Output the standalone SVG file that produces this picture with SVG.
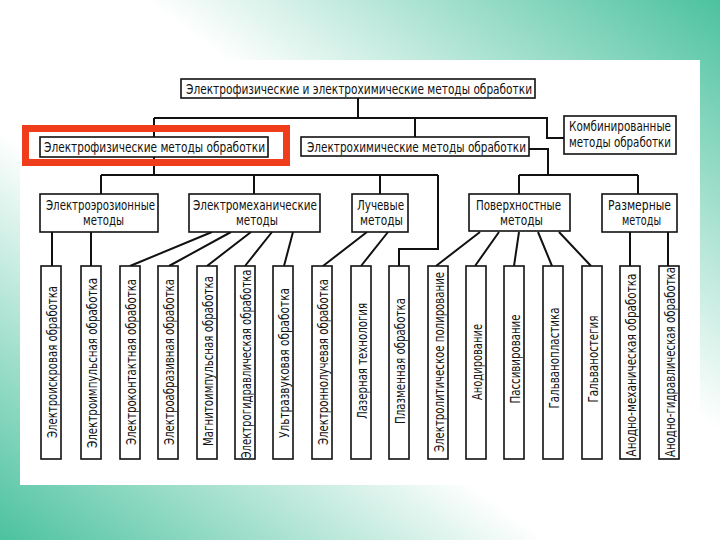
<svg xmlns="http://www.w3.org/2000/svg" width="720" height="540" viewBox="0 0 720 540">
<defs>
<linearGradient id="bg" x1="0" y1="1" x2="1" y2="0">
<stop offset="0" stop-color="#4cc29e"/>
<stop offset="0.38" stop-color="#ffffff"/>
<stop offset="0.6" stop-color="#ffffff"/>
<stop offset="1" stop-color="#4cc29e"/>
</linearGradient>
<style>
.box{fill:#fff;stroke:#111;stroke-width:1.6}
.ln{fill:none;stroke:#111;stroke-width:2}
.t{font-family:"Liberation Sans Narrow","DejaVu Sans Condensed","Liberation Sans",sans-serif;font-size:13.5px;fill:#111}
.v{font-family:"Liberation Sans Narrow","DejaVu Sans Condensed","Liberation Sans",sans-serif;font-size:14.5px;fill:#111;text-anchor:middle}
</style>
</defs>
<rect x="0" y="0" width="720" height="540" fill="url(#bg)"/>
<rect x="20" y="60" width="680" height="425" fill="#fff"/>

<g id="connectors">
<path class="ln" d="M358 98V118M154 118H547V138H564M415 118V137M154 118V137M154 157V175M101 175H438M101 175V194M254 175V194M380 175V194M438 175V249H399V266"/>
<path class="ln" d="M529 149H548V175M519 175H638M519 175V194M638 175V194"/>
<path class="ln" d="M52 232V266M91 232V266M212 232L130 266M231 232L169 266M251 232L207 266M272 232L245 266M293 232L284 266M367 232L323 266M388 232L361 266M480 232L436 266M499 232L475 266M519 232L514 266M538 232L552 266M559 232L591 266M630 232V266M668 232V266"/>
</g>

<g id="root"><rect class="box" x="181" y="79" width="354" height="19"/><text class="t" x="186" y="93.5" textLength="346" lengthAdjust="spacingAndGlyphs">Электрофизические и электрохимические методы обработки</text></g>
<g id="highlight"><rect x="25.5" y="128.5" width="261" height="34" fill="none" stroke="#ef3d1b" stroke-width="7"/></g>
<g id="ephys"><rect class="box" x="40" y="137" width="228" height="20"/><text class="t" x="44" y="152" textLength="221" lengthAdjust="spacingAndGlyphs">Электрофизические методы обработки</text></g>
<g id="echem"><rect class="box" x="301" y="137" width="228" height="19"/><text class="t" x="307" y="151.5" textLength="219" lengthAdjust="spacingAndGlyphs">Электрохимические методы обработки</text></g>
<g id="comb"><rect class="box" x="564" y="116" width="112" height="38"/><text class="t" x="569" y="131" textLength="102" lengthAdjust="spacingAndGlyphs">Комбинированные</text><text class="t" x="569" y="147" textLength="102" lengthAdjust="spacingAndGlyphs">методы обработки</text></g>

<g id="eeroz"><rect class="box" x="40" y="194" width="118" height="38"/><text class="t" x="46" y="209.5" textLength="109" lengthAdjust="spacingAndGlyphs">Электроэрозионные</text><text class="t" x="83" y="225" textLength="41" lengthAdjust="spacingAndGlyphs">методы</text></g>
<g id="emech"><rect class="box" x="189" y="194" width="131" height="38"/><text class="t" x="193" y="209.5" textLength="124" lengthAdjust="spacingAndGlyphs">Электромеханические</text><text class="t" x="236" y="225" textLength="42" lengthAdjust="spacingAndGlyphs">методы</text></g>
<g id="beam"><rect class="box" x="352" y="194" width="56" height="38"/><text class="t" x="357" y="209.5" textLength="47" lengthAdjust="spacingAndGlyphs">Лучевые</text><text class="t" x="360" y="225" textLength="43" lengthAdjust="spacingAndGlyphs">методы</text></g>
<g id="surf"><rect class="box" x="469" y="194" width="101" height="37"/><text class="t" x="476" y="209.5" textLength="85" lengthAdjust="spacingAndGlyphs">Поверхностные</text><text class="t" x="500" y="225" textLength="43" lengthAdjust="spacingAndGlyphs">методы</text></g>
<g id="dim"><rect class="box" x="602" y="194" width="75" height="38"/><text class="t" x="608" y="209.5" textLength="63" lengthAdjust="spacingAndGlyphs">Размерные</text><text class="t" x="622" y="225" textLength="39" lengthAdjust="spacingAndGlyphs">методы</text></g>

<g id="b1"><rect class="box" x="41" y="266" width="20" height="193"/><text class="v" transform="translate(56.5,362) rotate(-90)" textLength="152" lengthAdjust="spacingAndGlyphs">Электроискровая обработка</text></g>
<g id="b2"><rect class="box" x="81" y="266" width="20" height="193"/><text class="v" transform="translate(96.5,363) rotate(-90)" textLength="170" lengthAdjust="spacingAndGlyphs">Электроимпульсная обработка</text></g>
<g id="b3"><rect class="box" x="120" y="266" width="20" height="193"/><text class="v" transform="translate(135.5,362) rotate(-90)" textLength="166" lengthAdjust="spacingAndGlyphs">Электроконтактная обработка</text></g>
<g id="b4"><rect class="box" x="158" y="266" width="20" height="193"/><text class="v" transform="translate(173.5,362) rotate(-90)" textLength="166" lengthAdjust="spacingAndGlyphs">Электроабразивная обработка</text></g>
<g id="b5"><rect class="box" x="197" y="266" width="20" height="193"/><text class="v" transform="translate(212.5,361) rotate(-90)" textLength="170" lengthAdjust="spacingAndGlyphs">Магнитоимпульсная обработка</text></g>
<g id="b6"><rect class="box" x="235" y="266" width="20" height="193"/><text class="v" transform="translate(250.5,364) rotate(-90)" textLength="189" lengthAdjust="spacingAndGlyphs">Электрогидравлическая обработка</text></g>
<g id="b7"><rect class="box" x="273" y="266" width="20" height="193"/><text class="v" transform="translate(288.5,363) rotate(-90)" textLength="150" lengthAdjust="spacingAndGlyphs">Ультразвуковая обработка</text></g>
<g id="b8"><rect class="box" x="312" y="266" width="20" height="193"/><text class="v" transform="translate(327.5,362) rotate(-90)" textLength="166" lengthAdjust="spacingAndGlyphs">Электроннолучевая обработка</text></g>
<g id="b9"><rect class="box" x="351" y="266" width="20" height="193"/><text class="v" transform="translate(366.5,361) rotate(-90)" textLength="116" lengthAdjust="spacingAndGlyphs">Лазерная технология</text></g>
<g id="b10"><rect class="box" x="389" y="266" width="20" height="193"/><text class="v" transform="translate(404.5,361) rotate(-90)" textLength="126" lengthAdjust="spacingAndGlyphs">Плазменная обработка</text></g>
<g id="b11"><rect class="box" x="428" y="266" width="20" height="193"/><text class="v" transform="translate(443.5,362) rotate(-90)" textLength="180" lengthAdjust="spacingAndGlyphs">Электролитическое полирование</text></g>
<g id="b12"><rect class="box" x="466" y="266" width="20" height="193"/><text class="v" transform="translate(481.5,362) rotate(-90)" textLength="76" lengthAdjust="spacingAndGlyphs">Анодирование</text></g>
<g id="b13"><rect class="box" x="504" y="266" width="20" height="193"/><text class="v" transform="translate(519.5,359) rotate(-90)" textLength="89" lengthAdjust="spacingAndGlyphs">Пассивирование</text></g>
<g id="b14"><rect class="box" x="543" y="266" width="20" height="193"/><text class="v" transform="translate(558.5,358) rotate(-90)" textLength="101" lengthAdjust="spacingAndGlyphs">Гальванопластика</text></g>
<g id="b15"><rect class="box" x="582" y="266" width="20" height="193"/><text class="v" transform="translate(597.5,359) rotate(-90)" textLength="87" lengthAdjust="spacingAndGlyphs">Гальваностегия</text></g>
<g id="b16"><rect class="box" x="620" y="266" width="20" height="193"/><text class="v" transform="translate(635.5,365) rotate(-90)" textLength="183" lengthAdjust="spacingAndGlyphs">Анодно-механическая обработка</text></g>
<g id="b17"><rect class="box" x="659" y="266" width="20" height="193"/><text class="v" transform="translate(674.5,362) rotate(-90)" textLength="190" lengthAdjust="spacingAndGlyphs">Анодно-гидравлическая обработка</text></g>
</svg>
